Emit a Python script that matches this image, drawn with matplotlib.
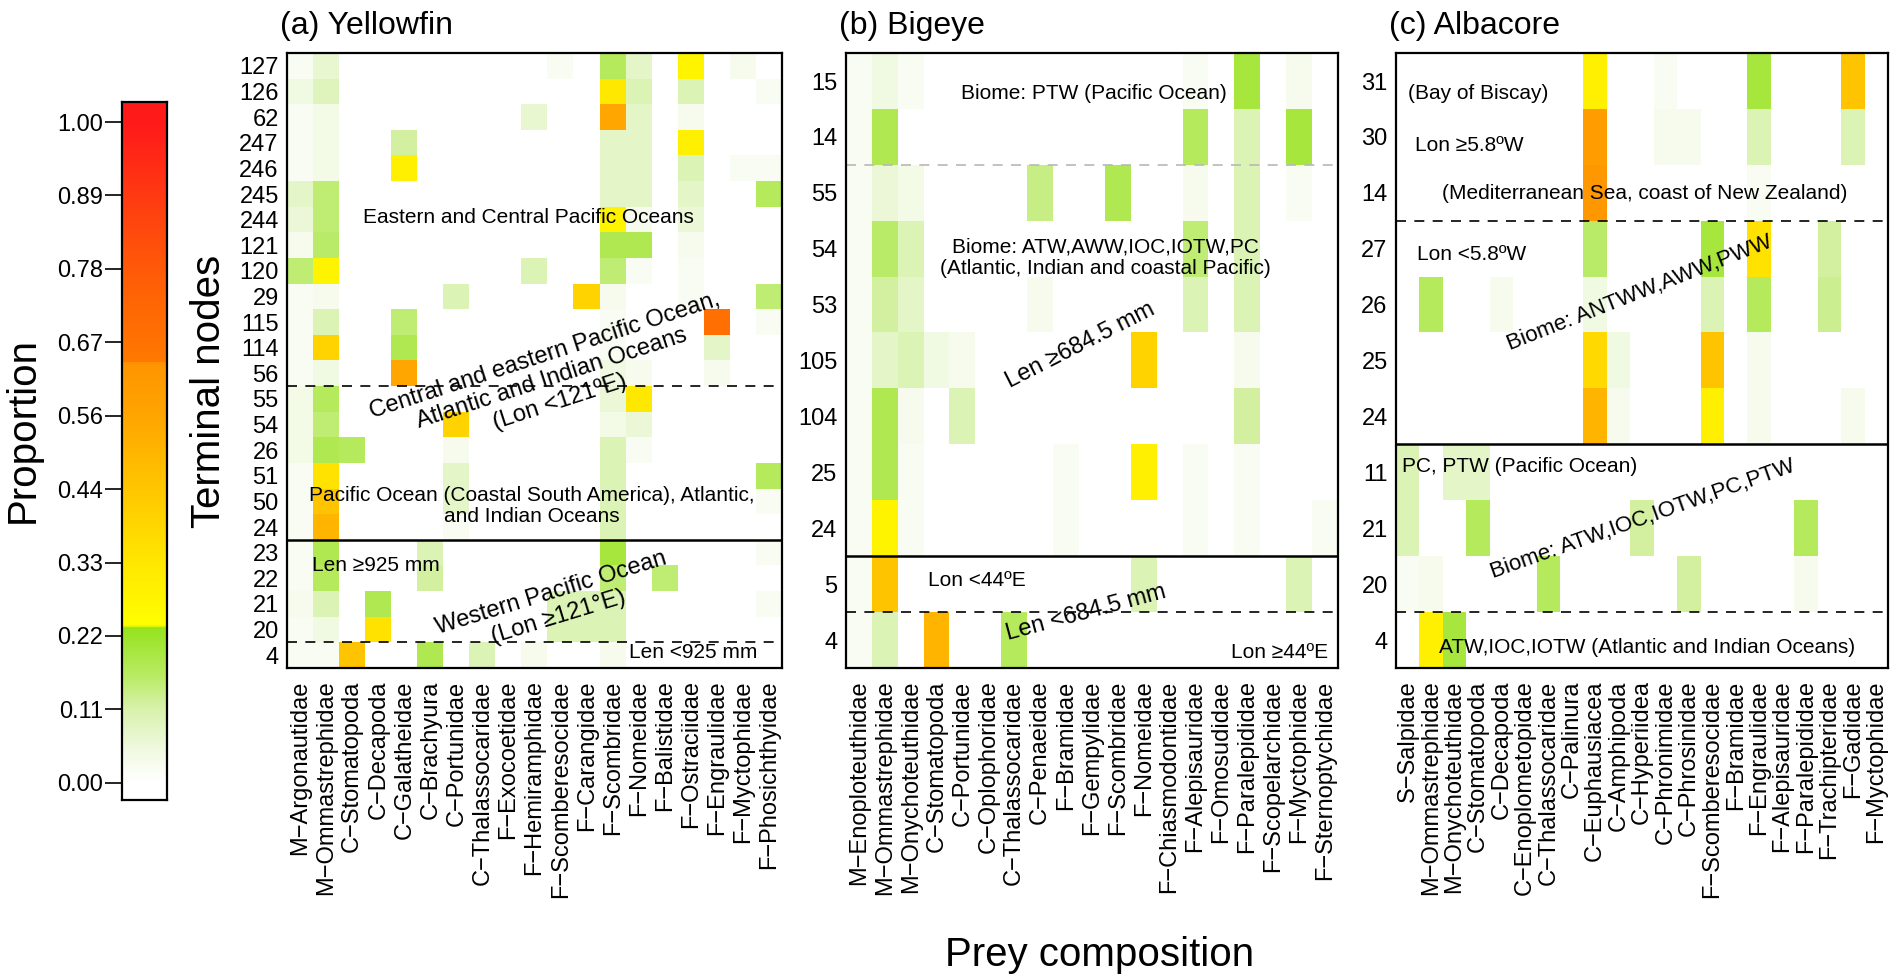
import numpy as np
import matplotlib
matplotlib.use("Agg")
import matplotlib.pyplot as plt
from matplotlib.colors import LinearSegmentedColormap

plt.rcParams['font.family'] = ['Liberation Sans', 'DejaVu Sans']

# ---- data -------------------------------------------------------------
yf_prey = ['M−Argonautidae', 'M−Ommastrephidae', 'C−Stomatopoda', 'C−Decapoda',
           'C−Galatheidae', 'C−Brachyura', 'C−Portunidae', 'C−Thalassocaridae',
           'F−Exocoetidae', 'F−Hemiramphidae', 'F−Scomberesocidae', 'F−Carangidae',
           'F−Scombridae', 'F−Nomeidae', 'F−Balistidae', 'F−Ostraciidae',
           'F−Engraulidae', 'F−Myctophidae', 'F−Phosichthyidae']
yf_nodes = ['127', '126', '62', '247', '246', '245', '244', '121', '120', '29', '115',
            '114', '56', '55', '54', '26', '51', '50', '24', '23', '22', '21', '20', '4']
yf_vals = [
    [0.02, 0.07, 0, 0, 0, 0, 0, 0, 0, 0, 0.02, 0, 0.17, 0.08, 0, 0.28, 0, 0.03, 0],
    [0.05, 0.09, 0, 0, 0, 0, 0, 0, 0, 0, 0, 0, 0.33, 0.10, 0, 0.10, 0, 0, 0.02],
    [0.02, 0.04, 0, 0, 0, 0, 0, 0, 0, 0.07, 0, 0, 0.55, 0.08, 0, 0.03, 0, 0, 0],
    [0.02, 0.04, 0, 0, 0.12, 0, 0, 0, 0, 0, 0, 0, 0.08, 0.08, 0, 0.30, 0, 0, 0],
    [0.02, 0.04, 0, 0, 0.30, 0, 0, 0, 0, 0, 0, 0, 0.08, 0.08, 0, 0.10, 0, 0.02, 0.02],
    [0.08, 0.15, 0, 0, 0, 0, 0, 0, 0, 0, 0, 0, 0.08, 0.08, 0, 0.08, 0, 0, 0.17],
    [0.06, 0.15, 0, 0, 0, 0, 0, 0, 0, 0, 0, 0, 0.28, 0.03, 0, 0.06, 0, 0, 0],
    [0.03, 0.16, 0, 0, 0, 0, 0, 0, 0, 0, 0, 0, 0.18, 0.18, 0, 0.03, 0, 0, 0],
    [0.15, 0.28, 0, 0, 0, 0, 0, 0, 0, 0.10, 0, 0, 0.15, 0.02, 0, 0.02, 0, 0, 0],
    [0.02, 0.03, 0, 0, 0, 0, 0.10, 0, 0, 0, 0, 0.40, 0.03, 0, 0, 0.02, 0, 0, 0.15],
    [0.02, 0.10, 0, 0, 0.15, 0, 0, 0, 0, 0, 0, 0, 0.02, 0, 0, 0, 0.68, 0, 0.02],
    [0.02, 0.40, 0, 0, 0.18, 0, 0, 0, 0, 0, 0, 0, 0.02, 0, 0, 0, 0.08, 0, 0],
    [0.02, 0.05, 0, 0, 0.55, 0, 0, 0, 0, 0, 0, 0, 0.05, 0.03, 0, 0, 0.03, 0, 0],
    [0.04, 0.17, 0, 0, 0, 0, 0, 0, 0, 0, 0, 0, 0.06, 0.33, 0, 0, 0, 0, 0],
    [0.04, 0.15, 0, 0, 0, 0, 0.40, 0, 0, 0, 0, 0, 0.04, 0.06, 0, 0, 0, 0, 0],
    [0.04, 0.18, 0.17, 0, 0, 0, 0.03, 0, 0, 0, 0, 0, 0.10, 0.02, 0, 0, 0, 0, 0],
    [0.02, 0.35, 0, 0, 0, 0, 0.08, 0, 0, 0, 0, 0, 0.10, 0, 0, 0, 0, 0, 0.17],
    [0.02, 0.45, 0, 0, 0, 0, 0.08, 0, 0, 0, 0, 0, 0.10, 0, 0, 0, 0, 0, 0.02],
    [0.02, 0.50, 0, 0, 0, 0, 0.02, 0, 0, 0, 0, 0, 0.10, 0, 0, 0, 0, 0, 0],
    [0.02, 0.18, 0, 0, 0, 0.10, 0, 0, 0, 0, 0, 0, 0.20, 0, 0, 0, 0, 0, 0.02],
    [0.02, 0.17, 0, 0, 0, 0.12, 0, 0, 0, 0, 0, 0, 0.15, 0, 0.15, 0, 0, 0, 0],
    [0.03, 0.10, 0, 0.18, 0, 0, 0, 0, 0, 0, 0.10, 0.10, 0.10, 0, 0, 0, 0, 0, 0.02],
    [0.02, 0.05, 0, 0.35, 0, 0, 0, 0, 0, 0, 0.10, 0.10, 0.10, 0, 0, 0, 0, 0, 0],
    [0.02, 0.02, 0.45, 0, 0, 0.18, 0, 0.10, 0, 0.03, 0, 0, 0.03, 0, 0, 0, 0, 0, 0],
]

be_prey = ['M−Enoploteuthidae', 'M−Ommastrephidae', 'M−Onychoteuthidae', 'C−Stomatopoda',
           'C−Portunidae', 'C−Oplophoridae', 'C−Thalassocaridae', 'C−Penaeidae',
           'F−Bramidae', 'F−Gempylidae', 'F−Scombridae', 'F−Nomeidae',
           'F−Chiasmodontidae', 'F−Alepisauridae', 'F−Omosudidae', 'F−Paralepididae',
           'F−Scopelarchidae', 'F−Myctophidae', 'F−Sternoptychidae']
be_nodes = ['15', '14', '55', '54', '53', '105', '104', '25', '24', '5', '4']
be_vals = [
    [0.02, 0.05, 0.02, 0, 0, 0, 0, 0, 0, 0, 0, 0, 0, 0.02, 0, 0.20, 0, 0.03, 0],
    [0.02, 0.18, 0, 0, 0, 0, 0, 0, 0, 0, 0, 0, 0, 0.17, 0, 0.10, 0, 0.20, 0],
    [0.02, 0.06, 0.04, 0, 0, 0, 0, 0.14, 0, 0, 0.18, 0, 0, 0.03, 0, 0.10, 0, 0.02, 0],
    [0.02, 0.16, 0.10, 0, 0, 0, 0, 0, 0, 0, 0, 0, 0, 0.15, 0, 0.10, 0, 0, 0],
    [0.02, 0.12, 0.08, 0, 0, 0, 0, 0.03, 0, 0, 0, 0, 0, 0.10, 0, 0.10, 0, 0, 0],
    [0.02, 0.08, 0.10, 0.05, 0.03, 0, 0, 0, 0, 0, 0, 0.40, 0, 0, 0, 0.03, 0, 0, 0],
    [0.02, 0.18, 0.03, 0, 0.10, 0, 0, 0, 0, 0, 0, 0, 0, 0, 0, 0.12, 0, 0, 0],
    [0.02, 0.18, 0.02, 0, 0, 0, 0, 0, 0.02, 0, 0, 0.30, 0, 0.02, 0, 0.02, 0, 0, 0],
    [0.02, 0.28, 0.02, 0, 0, 0, 0, 0, 0.02, 0, 0, 0, 0, 0.02, 0, 0.02, 0, 0, 0.02],
    [0.02, 0.45, 0, 0, 0, 0, 0, 0, 0, 0, 0, 0.10, 0, 0, 0, 0, 0, 0.10, 0],
    [0.02, 0.10, 0, 0.50, 0, 0, 0.17, 0, 0, 0, 0, 0, 0, 0, 0, 0, 0, 0, 0],
]

al_prey = ['S−Salpidae', 'M−Ommastrephidae', 'M−Onychoteuthidae', 'C−Stomatopoda',
           'C−Decapoda', 'C−Enoplometopidae', 'C−Thalassocaridae', 'C−Palinura',
           'C−Euphausiacea', 'C−Amphipoda', 'C−Hyperiidea', 'C−Phronimidae',
           'C−Phrosinidae', 'F−Scomberesocidae', 'F−Bramidae', 'F−Engraulidae',
           'F−Alepisauridae', 'F−Paralepididae', 'F−Trachipteridae', 'F−Gadidae',
           'F−Myctophidae']
al_nodes = ['31', '30', '14', '27', '26', '25', '24', '11', '21', '20', '4']
al_vals = [
    [0, 0, 0, 0, 0, 0, 0, 0, 0.30, 0, 0, 0.02, 0, 0, 0, 0.20, 0, 0, 0, 0.45, 0],
    [0, 0, 0, 0, 0, 0, 0, 0, 0.60, 0, 0, 0.03, 0.03, 0, 0, 0.10, 0, 0, 0, 0.10, 0],
    [0, 0, 0, 0, 0, 0, 0, 0, 0.62, 0, 0, 0, 0, 0, 0, 0.02, 0, 0, 0, 0, 0],
    [0, 0, 0, 0, 0, 0, 0, 0, 0.16, 0, 0, 0, 0, 0.20, 0, 0.35, 0, 0, 0.12, 0, 0],
    [0, 0.17, 0, 0, 0.03, 0, 0, 0, 0.05, 0, 0, 0, 0, 0.10, 0, 0.17, 0, 0, 0.13, 0, 0],
    [0, 0, 0, 0, 0, 0, 0, 0, 0.38, 0.05, 0, 0, 0, 0.45, 0, 0.03, 0, 0, 0, 0, 0],
    [0, 0, 0, 0, 0, 0, 0, 0, 0.50, 0.03, 0, 0, 0, 0.30, 0, 0.03, 0, 0, 0, 0.03, 0],
    [0.10, 0, 0.08, 0.08, 0, 0, 0, 0, 0, 0, 0, 0, 0, 0, 0, 0, 0, 0, 0, 0, 0],
    [0.10, 0, 0, 0.17, 0, 0, 0, 0, 0, 0, 0.12, 0, 0, 0, 0, 0, 0, 0.17, 0, 0, 0],
    [0.02, 0.03, 0, 0, 0, 0, 0.17, 0, 0, 0, 0, 0, 0.12, 0, 0, 0, 0, 0.03, 0, 0, 0],
    [0, 0.30, 0.20, 0, 0, 0, 0, 0, 0, 0, 0, 0, 0, 0, 0, 0, 0, 0, 0, 0, 0],
]

cbar_ticks = ['0.00', '0.11', '0.22', '0.33', '0.44', '0.56', '0.67', '0.78', '0.89', '1.00']

# ---- colour scale (white -> green | yellow -> orange | red) ----------
cmap = LinearSegmentedColormap.from_list('prop', [
    (0.0, '#ffffff'), (0.05, '#f0f9e0'), (0.11, '#d8f2ac'), (0.16, '#b9eb64'),
    (0.234, '#96e31c'), (0.236, '#ffff00'), (0.33, '#ffe800'), (0.44, '#ffc800'),
    (0.56, '#ffa400'), (0.635, '#ff9500'), (0.637, '#ff7a00'), (0.78, '#ff5a08'),
    (0.89, '#ff3a12'), (1.0, '#ff1a1a')])

fig = plt.figure(figsize=(18.95, 9.76), dpi=100)


def heat(rect, vals, prey, nodes, title, solid, dashed, faint=()):
    ax = fig.add_axes(rect)
    ax.imshow(np.array(vals), cmap=cmap, vmin=0, vmax=1, aspect='auto',
              interpolation='nearest')
    ax.set_xticks(range(len(prey)))
    ax.set_xticklabels(prey, rotation=90, fontsize=17)
    ax.set_yticks(range(len(nodes)))
    ax.set_yticklabels(nodes, fontsize=17)
    ax.tick_params(axis='y', length=0, pad=6)
    ax.tick_params(axis='x', length=0, pad=9)
    for y in solid:
        ax.axhline(y, color='black', lw=1.8)
    for y in dashed:
        ax.axhline(y, color='black', lw=1.2, ls=(0, (6, 5)))
    for y in faint:
        ax.axhline(y, color='#b8b8b8', lw=1.2, ls=(0, (6, 5)))
    for s in ax.spines.values():
        s.set_linewidth(1.6)
    ax.text(-0.014, 1.044, title, transform=ax.transAxes, fontsize=23,
            ha='left', va='center')
    return ax


def note(ax, x, y, s, ha='center', rot=0, fs=15):
    ax.text(x, y, s, transform=ax.transAxes, ha=ha, va='center', fontsize=fs,
            rotation=rot, rotation_mode='anchor', multialignment='center',
            linespacing=1.15)


axa = heat([0.1515, 0.3156, 0.2612, 0.630], yf_vals, yf_prey, yf_nodes,
           '(a) Yellowfin', [18.5], [12.5, 22.5])
note(axa, 0.487, 0.732, 'Eastern and Central Pacific Oceans')
note(axa, 0.535, 0.47, 'Central and eastern Pacific Ocean,\nAtlantic and Indian Oceans\n(Lon <121ºE)',
     rot=18, fs=17)
note(axa, 0.495, 0.263, 'Pacific Ocean (Coastal South America), Atlantic,\nand Indian Oceans')
note(axa, 0.05, 0.167, 'Len ≥925 mm', ha='left')
note(axa, 0.541, 0.102, 'Western Pacific Ocean\n(Lon ≥121°E)', rot=17, fs=17)
note(axa, 0.95, 0.025, 'Len <925 mm', ha='right')

axb = heat([0.4464, 0.3156, 0.2596, 0.630], be_vals, be_prey, be_nodes,
           '(b) Bigeye', [8.5], [9.5], faint=[1.5])
note(axb, 0.504, 0.935, 'Biome: PTW (Pacific Ocean)')
note(axb, 0.527, 0.667, 'Biome: ATW,AWW,IOC,IOTW,PC\n(Atlantic, Indian and coastal Pacific)')
note(axb, 0.476, 0.525, 'Len ≥684.5 mm', rot=27, fs=17)
note(axb, 0.167, 0.143, 'Lon <44ºE', ha='left')
note(axb, 0.488, 0.089, 'Len <684.5 mm', rot=15, fs=17)
note(axb, 0.98, 0.025, 'Lon ≥44ºE', ha='right')

axc = heat([0.7367, 0.3156, 0.2596, 0.630], al_vals, al_prey, al_nodes,
           '(c) Albacore', [6.5], [2.5, 9.5])
note(axc, 0.024, 0.935, '(Bay of Biscay)', ha='left')
note(axc, 0.039, 0.85, 'Lon ≥5.8ºW', ha='left')
note(axc, 0.506, 0.771, '(Mediterranean Sea, coast of New Zealand)')
note(axc, 0.043, 0.672, 'Lon <5.8ºW', ha='left')
note(axc, 0.496, 0.61, 'Biome: ANTWW,AWW,PWW', rot=21.5, fs=16)
note(axc, 0.012, 0.328, 'PC, PTW (Pacific Ocean)', ha='left')
note(axc, 0.502, 0.241, 'Biome: ATW,IOC,IOTW,PC,PTW', rot=19.5, fs=16)
note(axc, 0.51, 0.034, 'ATW,IOC,IOTW (Atlantic and Indian Oceans)')

# ---- colour bar -------------------------------------------------------
cax = fig.add_axes([0.0644, 0.1803, 0.0237, 0.715])
lo, hi = -0.026, 1.03
grad = np.clip(np.linspace(lo, hi, 800), 0, 1)[:, None]
cax.imshow(grad, cmap=cmap, vmin=0, vmax=1, aspect='auto', origin='lower',
           extent=[0, 1, lo, hi])
cax.set_ylim(lo, hi)
cax.set_xticks([])
cax.set_yticks(np.arange(10) / 9)
cax.set_yticklabels(cbar_ticks, fontsize=17)
cax.tick_params(axis='y', length=12, width=1.2, pad=1.5)
for s in cax.spines.values():
    s.set_linewidth(1.6)

fig.text(23 / 1895, 1 - 430 / 976, 'Proportion', rotation=90, fontsize=29,
         ha='center', va='center')
fig.text(209 / 1895, 1 - 391 / 976, 'Terminal nodes', rotation=90, fontsize=29,
         ha='center', va='center')
fig.text(1100 / 1895, 1 - 955 / 976, 'Prey composition', fontsize=29,
         ha='center', va='center')

fig.savefig('out.png', dpi=100)
